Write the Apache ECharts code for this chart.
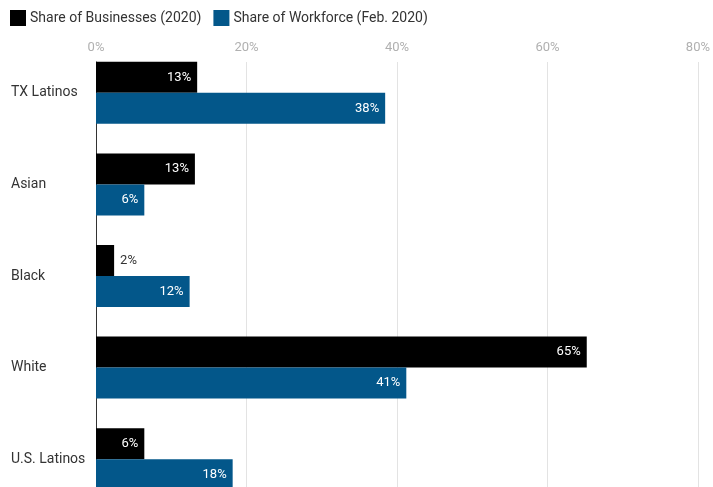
<!DOCTYPE html>
<html><head><meta charset="utf-8">
<script src="https://cdn.jsdelivr.net/npm/echarts@6/dist/echarts.min.js"></script>
<style>html,body{margin:0;padding:0;background:#fff;width:713px;height:487px;overflow:hidden}#c{width:713px;height:505px}</style>
</head><body><div id="c"></div>
<script>
const categories = ['TX Latinos', 'Asian', 'Black', 'White', 'U.S. Latinos'];
const businesses = [13.4, 13.1, 2.4, 65.0, 6.4];
const workforce = [38.3, 6.4, 12.4, 41.1, 18.1];
const seriesNames = ['Share of Businesses (2020)', 'Share of Workforce (Feb. 2020)'];
const xTicks = [0, 20, 40, 60, 80];

const FONT = 'Roboto';
function mkData(arr) {
  return arr.map(v => v < 4 ? {value: v, label: {position: 'right', color: '#333', distance: 6}} : v);
}
const chart = echarts.init(document.getElementById('c'));
chart.setOption({
  animation: false,
  textStyle: {fontFamily: FONT},
  legend: {
    left: 5, top: 5, itemWidth: 16, itemHeight: 16, itemGap: 12, icon: 'rect',
    textStyle: {fontSize: 14, color: '#333', fontFamily: FONT, padding: [0,0,0,-1]},
    data: seriesNames
  },
  grid: [
    {left: 96, right: 13, top: 47, bottom: 0},
    {left: 96, right: 13, top: 62, bottom: 0}
  ],
  xAxis: [
    {gridIndex: 0, type: 'value', min: xTicks[0], max: xTicks[xTicks.length-1], interval: 20, show: false},
    {gridIndex: 1, type: 'value', position: 'top', min: xTicks[0], max: xTicks[xTicks.length-1], interval: 20,
     axisLine: {show: false}, axisTick: {show: false},
     axisLabel: {formatter: v => v + '%', color: '#b0b0b0', fontSize: 13, margin: 8, fontFamily: FONT},
     splitLine: {lineStyle: {color: '#e3e3e3', width: 1}}}
  ],
  yAxis: [
    {gridIndex: 0, type: 'category', inverse: true, data: categories,
     axisLine: {show: false}, axisTick: {show: false}, splitLine: {show: false},
     axisLabel: {align: 'left', margin: 85, color: '#333', fontSize: 14, fontFamily: FONT}},
    {gridIndex: 1, type: 'value', min: 0, max: 1, axisLine: {show: true, lineStyle: {color: '#333', width: 1}},
     axisTick: {show: false}, axisLabel: {show: false}, splitLine: {show: false}}
  ],
  series: [
    {name: seriesNames[0], type: 'bar', xAxisIndex: 0, yAxisIndex: 0, data: mkData(businesses),
     barWidth: 31, barGap: '0%', itemStyle: {color: '#000000'},
     label: {show: true, position: 'insideRight', distance: 6, color: '#fff', fontSize: 13, fontFamily: FONT,
             formatter: p => Math.round(p.value) + '%'}},
    {name: seriesNames[1], type: 'bar', xAxisIndex: 0, yAxisIndex: 0, data: mkData(workforce),
     barWidth: 31, barGap: '0%', itemStyle: {color: '#03578a'},
     label: {show: true, position: 'insideRight', distance: 6, color: '#fff', fontSize: 13, fontFamily: FONT,
             formatter: p => Math.round(p.value) + '%'}}
  ]
});
</script></body></html>
